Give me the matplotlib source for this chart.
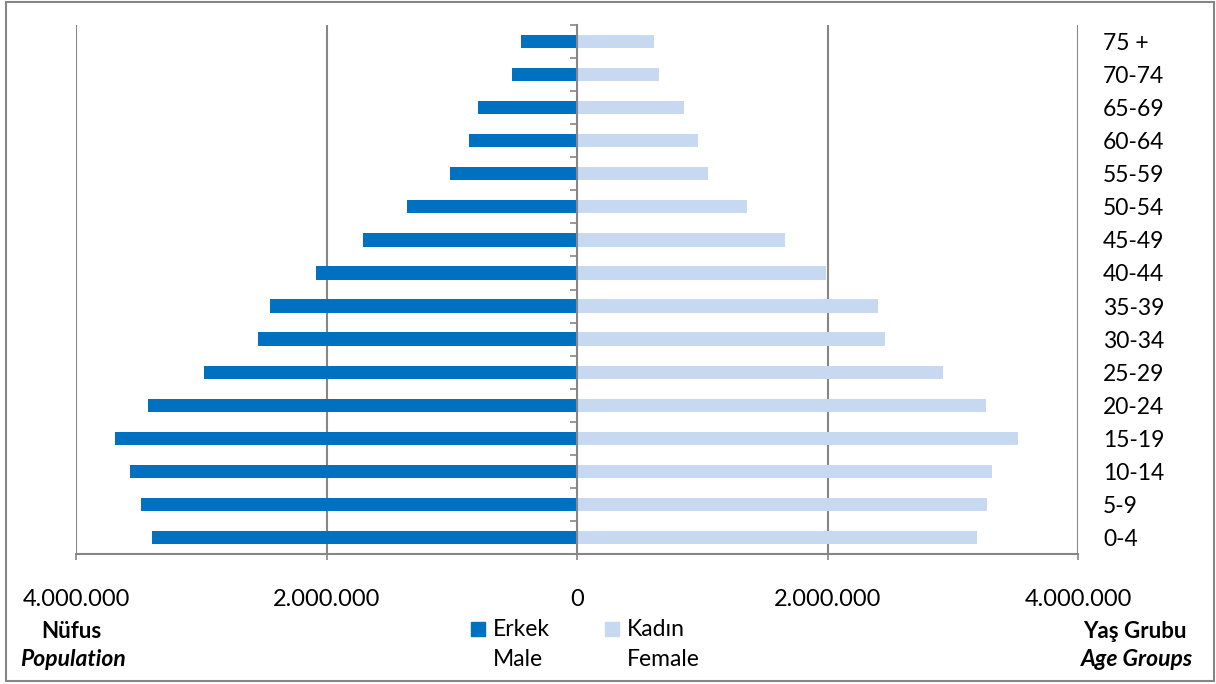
import matplotlib
matplotlib.use('Agg')
import matplotlib.pyplot as plt
from matplotlib.patches import Rectangle
from matplotlib.ticker import FuncFormatter, FixedLocator
import numpy as np

# age groups, bottom to top
age_groups = ['0-4', '5-9', '10-14', '15-19', '20-24', '25-29', '30-34', '35-39',
              '40-44', '45-49', '50-54', '55-59', '60-64', '65-69', '70-74', '75 +']
male = [3393000, 3481000, 3569000, 3689000, 3425000, 2978000, 2547000, 2451000,
        2084000, 1709000, 1357000, 1014000, 862000, 790000, 517000, 447000]
female = [3194000, 3273000, 3313000, 3521000, 3265000, 2922000, 2459000, 2403000,
          1988000, 1661000, 1357000, 1046000, 966000, 854000, 655000, 615000]
x_ticks = [-4000000, -2000000, 0, 2000000, 4000000]

male_color = '#0070C0'
female_color = '#C6D9F1'
axis_gray = '#868686'

plt.rcParams['font.family'] = ['Lato', 'DejaVu Sans']

W, H = 1216, 684
fig = plt.figure(figsize=(W / 100, H / 100), dpi=100)
ax = fig.add_axes([76 / W, (H - 554) / H, (1078 - 76) / W, (554 - 25) / H])

y = np.arange(len(age_groups))
ax.barh(y, [-v for v in male], height=0.4, color=male_color, zorder=3)
ax.barh(y, female, height=0.4, color=female_color, zorder=3)

ax.set_xlim(-4000000, 4000000)
ax.set_ylim(-0.5, len(age_groups) - 0.5)

# vertical gridlines
for xv in x_ticks:
    if xv != 0:
        ax.axvline(xv, color=axis_gray, lw=1.5, zorder=1)

ax.set_xticks(x_ticks)
ax.xaxis.set_major_formatter(FuncFormatter(lambda v, p: f"{abs(int(v)):,}".replace(',', '.')))
ax.tick_params(axis='x', direction='out', length=4, width=1.2, color=axis_gray,
               pad=21, labelsize=17)

# center axis with category boundary ticks
ax.spines['left'].set_position(('data', 0))
ax.spines['left'].set_color(axis_gray)
ax.spines['left'].set_linewidth(1.5)
ax.spines['left'].set_zorder(4)
ax.spines['bottom'].set_color(axis_gray)
ax.spines['bottom'].set_linewidth(1.5)
ax.spines['top'].set_visible(False)
ax.spines['right'].set_visible(False)

ax.set_yticks(y)
ax.set_yticklabels(age_groups)
ax.yaxis.set_minor_locator(FixedLocator(np.arange(-0.5, len(age_groups), 1)))
ax.tick_params(axis='y', which='major', length=0, left=False, right=False,
               labelleft=False, labelright=True, pad=18, labelsize=16.5)
ax.tick_params(axis='y', which='minor', direction='out', length=5, width=1.2,
               color=axis_gray, left=True, right=False)

# legend drawn by hand so that the square sits on the first line
for x0, col, l1, l2 in [(471, male_color, 'Erkek', 'Male'), (605, female_color, 'Kadın', 'Female')]:
    fig.patches.append(Rectangle((x0 / W, (H - 636) / H), 14 / W, 14 / H,
                                 transform=fig.transFigure, color=col))
    fig.text((x0 + 22) / W, (H - 630) / H, l1, fontsize=16.5, va='center', ha='left')
    fig.text((x0 + 22) / W, (H - 659) / H, l2, fontsize=16.5, va='center', ha='left')

fig.text(71 / W, (H - 631) / H, 'Nüfus', fontsize=16, fontweight='bold', ha='center', va='center')
fig.text(73 / W, (H - 659) / H, 'Population', fontsize=16.5, fontweight='bold', style='italic',
         ha='center', va='center')
fig.text(1187 / W, (H - 631) / H, 'Yaş Grubu', fontsize=16, fontweight='bold', ha='right', va='center')
fig.text(1193 / W, (H - 659) / H, 'Age Groups', fontsize=16.5, fontweight='bold', style='italic',
         ha='right', va='center')

# outer chart border
fig.patches.append(Rectangle((6 / W, (H - 681) / H), (1214 - 6) / W, (681 - 2) / H,
                             transform=fig.transFigure, fill=False, edgecolor=axis_gray, lw=1.5))

fig.savefig('out.png', dpi=100)
